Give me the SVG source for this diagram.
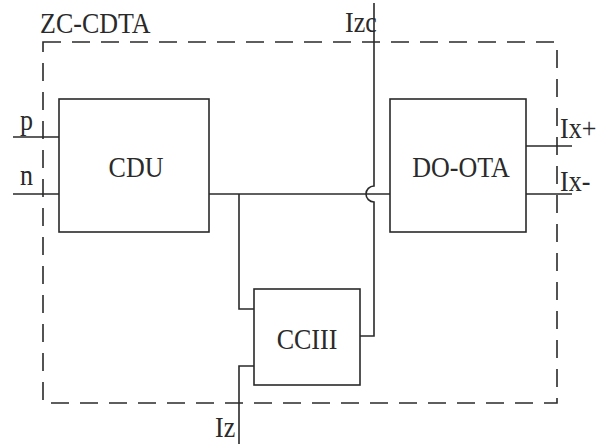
<svg xmlns="http://www.w3.org/2000/svg" width="596" height="444" viewBox="0 0 596 444">
<style>
.ln{fill:none;stroke:#2a2a2a;stroke-width:1.6}
.box{fill:#fff;stroke:#2a2a2a;stroke-width:1.6}
.dash{fill:none;stroke:#2a2a2a;stroke-width:1.6;stroke-dasharray:18 11}
.t{font-family:'Liberation Serif','DejaVu Serif','Times New Roman',serif;font-size:26px;fill:#2a2a2a}
</style>
<rect width="596" height="444" fill="#fff"/>
<g id="boundary">
<rect class="dash" x="43" y="42" width="514" height="361"/>
<g transform="translate(40,33) scale(1,1.1)"><text class="t">ZC-CDTA</text></g>
</g>
<g id="connectors">
<path class="ln" d="M13,137 H59 M13,194 H59"/>
<path class="ln" d="M209,194 H390"/>
<path class="ln" d="M526,146 H572 M526,194 H572"/>
<path class="ln" d="M239,194 V309 H254"/>
<path class="ln" d="M254,366 H239 V444"/>
<path class="ln" d="M374,3 V186 A8,8 0 0 0 374,202 V336 H360"/>
</g>
<g id="labels">
<g transform="translate(20,130) scale(1,1.1)"><text class="t">p</text></g>
<g transform="translate(20,185) scale(1,1.1)"><text class="t">n</text></g>
<g transform="translate(345,32) scale(1,1.1)"><text class="t">Izc</text></g>
<g transform="translate(560,138) scale(1,1.1)"><text class="t">Ix+</text></g>
<g transform="translate(560,191) scale(1,1.1)"><text class="t">Ix-</text></g>
<g transform="translate(215,437) scale(1,1.1)"><text class="t">Iz</text></g>
</g>
<g id="CDU">
<rect class="box" x="59" y="99" width="150" height="133"/>
<g transform="translate(136,177) scale(1,1.1)"><text class="t" text-anchor="middle">CDU</text></g>
</g>
<g id="DO-OTA">
<rect class="box" x="390" y="99" width="136" height="133"/>
<g transform="translate(461,177) scale(1,1.1)"><text class="t" text-anchor="middle">DO-OTA</text></g>
</g>
<g id="CCIII">
<rect class="box" x="254" y="289" width="106" height="96"/>
<g transform="translate(307,349) scale(1,1.1)"><text class="t" text-anchor="middle">CCIII</text></g>
</g>
</svg>
